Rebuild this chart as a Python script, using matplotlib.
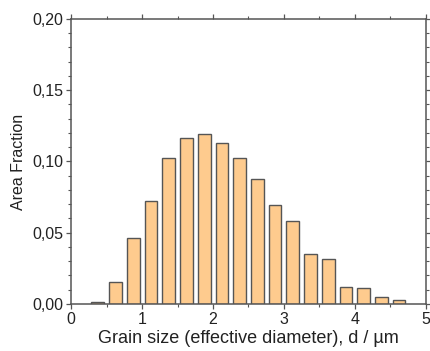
import matplotlib
matplotlib.use("Agg")
import matplotlib.pyplot as plt
from matplotlib.ticker import MultipleLocator, FuncFormatter

plt.rcParams['font.family'] = ['Liberation Sans', 'DejaVu Sans']

# bin centres (µm) and area fraction per bin
grain_size = [0.375, 0.625, 0.875, 1.125, 1.375, 1.625, 1.875, 2.125, 2.375,
              2.625, 2.875, 3.125, 3.375, 3.625, 3.875, 4.125, 4.375, 4.625]
area_fraction = [0.0016, 0.0157, 0.0463, 0.0725, 0.1027, 0.1165, 0.1193, 0.1128, 0.1025,
                 0.0880, 0.0693, 0.0580, 0.0353, 0.0316, 0.0119, 0.0112, 0.0051, 0.0028]

fig = plt.figure(figsize=(4.31, 3.51), dpi=100)
ax = fig.add_axes([0.1654, 0.1339, 0.8223, 0.812])

ax.bar(grain_size, area_fraction, width=0.18, color='#FECB8E',
       edgecolor='#555555', linewidth=1.0)

ax.set_xlim(0, 5)
ax.set_ylim(0, 0.20)
ax.xaxis.set_major_locator(MultipleLocator(1))
ax.xaxis.set_minor_locator(MultipleLocator(0.5))
ax.yaxis.set_major_locator(MultipleLocator(0.05))
ax.yaxis.set_minor_locator(MultipleLocator(0.01))
ax.yaxis.set_major_formatter(FuncFormatter(lambda v, p: f"{v:.2f}".replace('.', ',')))

for s in ax.spines.values():
    s.set_color('#555555')
    s.set_linewidth(1.1)

ax.tick_params(which='both', direction='out', top=True, right=True,
               colors='#555555', labelcolor='#222222', labelsize=11.5)
ax.tick_params(which='major', length=3.5, width=0.9, pad=2.5)
ax.tick_params(which='minor', length=2, width=0.8)

ax.set_xlabel("Grain size (effective diameter), d / µm", fontsize=13, color='#222222', labelpad=2)
ax.set_ylabel("Area Fraction", fontsize=11.5, color='#222222', labelpad=4)

fig.savefig("out.png", dpi=100)
